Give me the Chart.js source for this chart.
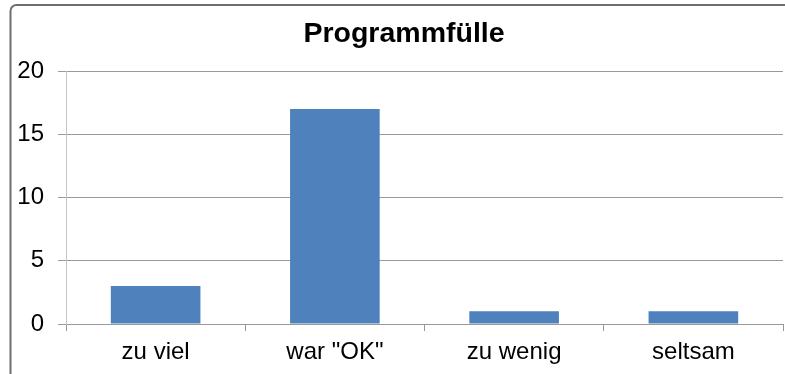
<!DOCTYPE html>
<html>
<head>
<meta charset="utf-8">
<script src="https://cdn.jsdelivr.net/npm/chart.js@4/dist/chart.umd.min.js"></script>
<style>
    html, body { margin: 0; padding: 0; background: #fff; }
    #box { width: 785px; height: 374px; position: relative; }
</style>
</head>
<body>
<div id="box"><canvas id="programmChart"></canvas></div>
<script>
// Umfrage: Programmfülle
var kategorien = ["zu viel", "war \"OK\"", "zu wenig", "seltsam"];
var anzahl = [3, 17, 1, 1];
var titel = "Programmfülle";

// frame around the chart + title text
var rahmen = {
    id: "rahmen",
    beforeDraw: function (chart) {
        var ctx = chart.ctx;
        ctx.save();
        ctx.fillStyle = "#fff";
        ctx.fillRect(0, 0, chart.width, chart.height);
        ctx.strokeStyle = "#6e6e6e";
        ctx.lineWidth = 2;
        ctx.beginPath();
        ctx.moveTo(10.5, chart.height + 5);
        ctx.lineTo(10.5, 11);
        ctx.arcTo(10.5, 5, 16.5, 5, 6);
        ctx.lineTo(chart.width + 5, 5);
        ctx.stroke();
        ctx.restore();
    },
    afterDraw: function (chart) {
        var ctx = chart.ctx;
        ctx.save();
        ctx.fillStyle = "#000";
        ctx.font = "bold 28.5px 'Liberation Sans', Arial, sans-serif";
        ctx.textAlign = "center";
        ctx.textBaseline = "alphabetic";
        ctx.fillText(titel, 404, 42);
        ctx.restore();
    },
};

var ctx = document.getElementById("programmChart");
var myBarChart = new Chart(ctx, {
    type: "bar",
    data: {
        labels: kategorien,
        datasets: [
            {
                label: titel,
                data: anzahl,
                backgroundColor: "#4f81bd",
                borderWidth: 0,
                barPercentage: 0.5,
                categoryPercentage: 1.0,
            },
        ],
    },
    options: {
        responsive: true,
        maintainAspectRatio: false,
        animation: false,
        layout: {
            padding: { top: 71, left: 0, right: 2, bottom: 0 },
        },
        plugins: {
            legend: { display: false },
            title: { display: false },
            tooltip: { enabled: false },
        },
        scales: {
            x: {
                afterFit: function (scale) {
                    scale.height = 50;
                },
                grid: {
                    offset: true,
                    drawOnChartArea: false,
                    drawTicks: true,
                    tickLength: 7,
                    color: "#9a9a9a",
                },
                border: { color: "#9a9a9a", width: 1 },
                ticks: {
                    color: "#000",
                    padding: 7,
                    font: { family: "'Liberation Sans', Arial, sans-serif", size: 24 },
                },
            },
            y: {
                min: 0,
                max: 20,
                afterFit: function (scale) {
                    scale.width = 66;
                },
                grid: {
                    color: "#9a9a9a",
                    tickLength: 8,
                },
                border: { color: "#c4c4c4", width: 1 },
                ticks: {
                    stepSize: 5,
                    color: "#000",
                    padding: 14,
                    font: { family: "'Liberation Sans', Arial, sans-serif", size: 24 },
                },
            },
        },
    },
    plugins: [rahmen],
});
</script>
</body>
</html>
